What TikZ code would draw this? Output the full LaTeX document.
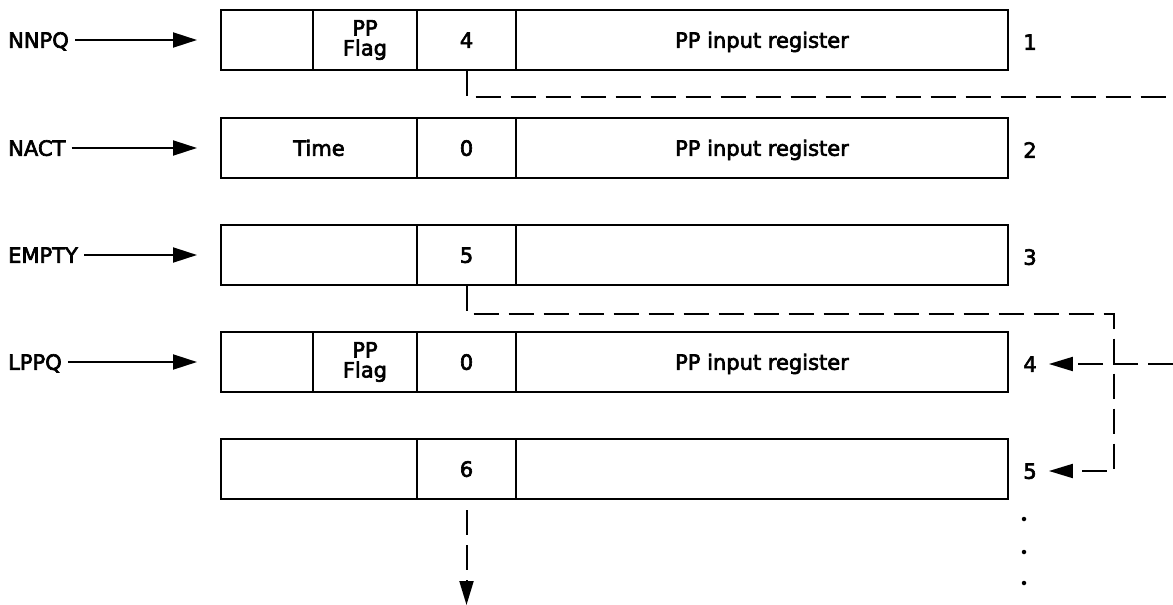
\documentclass[tikz,border=0pt]{standalone}
\usepackage{fontspec}
\setmainfont{DejaVu Sans}[FakeBold=3]
\usetikzlibrary{arrows.meta}
\begin{document}
\begin{tikzpicture}[x=1pt,y=-1pt,
  cellbox/.style={draw, line width=2pt, minimum height=60pt, inner sep=0pt, align=center, font=\fontsize{21}{20}\selectfont},
  cell/.style={cellbox, text height=15.5pt, text depth=0pt},
  flagcell/.style={cellbox},
  lbl/.style={inner sep=0pt, anchor=west, text height=15.5pt, text depth=0pt, font=\fontsize{21}{21}\selectfont},
  num/.style={inner sep=0pt, text height=15.5pt, text depth=0pt, font=\fontsize{21}{21}\selectfont},
  inarrow/.style={line width=2pt, -{Triangle[length=24pt,width=15pt]}, shorten <=6pt, shorten >=23pt},
  dashline/.style={line width=2pt, dash pattern=on 25pt off 10pt},
  dashtip/.style={dashline, -{Triangle[length=24pt,width=14pt]}},
  dot/.style={circle, fill, inner sep=0pt, minimum size=4.5pt}]
\useasboundingbox (0,0) rectangle (1173,605);

% Row 1
\node[cell, minimum width=92pt]      (r1a) at (267,40) {};
\node[flagcell, minimum width=104pt] (r1b) at (365,40) {PP\\Flag};
\node[cell, minimum width=99pt]      (r1c) at (466.5,40) {4};
\node[cell, minimum width=492pt]     (r1d) at (762,40) {PP input register};
\node[num] (n1) at (1030,42) {1};
\node[lbl] (nnpq) at (8,40) {NNPQ};

% Row 2
\node[cell, minimum width=196pt] (r2a) at (319,148) {Time};
\node[cell, minimum width=99pt]  (r2c) at (466.5,148) {0};
\node[cell, minimum width=492pt] (r2d) at (762,148) {PP input register};
\node[num] (n2) at (1030,150) {2};
\node[lbl] (nact) at (8,148) {NACT};

% Row 3
\node[cell, minimum width=196pt] (r3a) at (319,255) {};
\node[cell, minimum width=99pt]  (r3c) at (466.5,255) {5};
\node[cell, minimum width=492pt] (r3d) at (762,255) {};
\node[num] (n3) at (1030,257) {3};
\node[lbl] (empty) at (8,255) {EMPTY};

% Row 4
\node[cell, minimum width=92pt]      (r4a) at (267,362) {};
\node[flagcell, minimum width=104pt] (r4b) at (365,362) {PP\\Flag};
\node[cell, minimum width=99pt]      (r4c) at (466.5,362) {0};
\node[cell, minimum width=492pt]     (r4d) at (762,362) {PP input register};
\node[num] (n4) at (1030,364) {4};
\node[lbl] (lppq) at (8,362) {LPPQ};

% Row 5
\node[cell, minimum width=196pt] (r5a) at (319,469) {};
\node[cell, minimum width=99pt]  (r5c) at (466.5,469) {6};
\node[cell, minimum width=492pt] (r5d) at (762,469) {};
\node[num] (n5) at (1030,471) {5};

% dots
\node[dot] (dot1) at (1024,519) {};
\node[dot] (dot2) at (1024,552) {};
\node[dot] (dot3) at (1024,583) {};

% pointer arrows
\draw[inarrow] (nnpq) -- (r1a);
\draw[inarrow] (nact) -- (r2a);
\draw[inarrow] (empty) -- (r3a);
\draw[inarrow] (lppq) -- (r4a);

% dashed links
\coordinate (e1) at (1173,97);
\draw[dashline] (r1c.south) |- (e1);

\coordinate (e4) at (1173,364);
\draw[dashtip, shorten >=12pt] (e4) -- (n4.east);

\coordinate (c3) at (1114,314);
\draw[dashtip, shorten >=12pt] (r3c.south) |- (c3) |- (n5.east);

\coordinate (d5) at (466.5,605);
\draw[dashtip, dash phase=25pt] (r5c.south) -- (d5);
\end{tikzpicture}
\end{document}
